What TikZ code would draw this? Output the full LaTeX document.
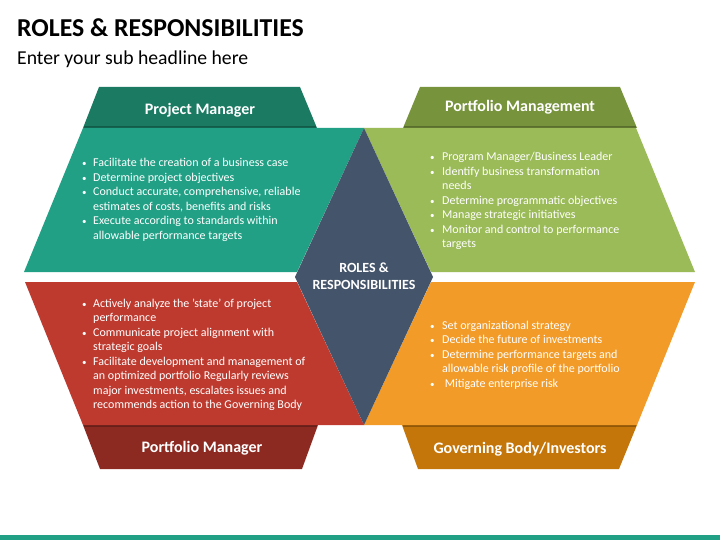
\documentclass[tikz,border=0pt]{standalone}
\usepackage{fontspec}
\setmainfont{Carlito}
\usepackage{array}

\definecolor{tealhead}{HTML}{1A7A62}
\definecolor{tealbody}{HTML}{21A085}
\definecolor{greenhead}{HTML}{77933C}
\definecolor{greenbody}{HTML}{9BBB59}
\definecolor{redhead}{HTML}{8C2A22}
\definecolor{redbody}{HTML}{BE3A2F}
\definecolor{orangehead}{HTML}{C5760A}
\definecolor{orangebody}{HTML}{F29B28}
\definecolor{slate}{HTML}{44546A}

\newcommand{\bul}{{\fontsize{9}{9}\selectfont\textbullet}}

\begin{document}
\begin{tikzpicture}[x=1pt, y=-1pt,
  boxtext/.style={text=white, inner sep=0pt, anchor=base west, font=\fontsize{12}{14.5}\selectfont},
  headtext/.style={text=white, inner sep=0pt, anchor=base, font=\fontsize{16}{18}\selectfont\bfseries},
  seam/.style={black, opacity=0.25, line width=2pt}]

\useasboundingbox (0,0) rectangle (720,540);

\node (title)  [anchor=base west, inner sep=0pt, font=\fontsize{25.8}{28}\selectfont\bfseries]  at  (17, 36.5) {ROLES \& RESPONSIBILITIES};
\node (subtitle)  [anchor=base west, inner sep=0pt, font=\fontsize{19.7}{22}\selectfont]  at  (17, 65) {Enter your sub headline here};

% headers
\fill   [tealhead]     (99,87) -- (300,87) -- (317,128) -- (83,128) -- cycle;
\fill   [greenhead]    (420,87) -- (620,87) -- (637,128) -- (403,128) -- cycle;
\fill   [redhead]      (83,425) -- (318,425) -- (302,469) -- (100,469) -- cycle;
\fill   [orangehead]   (402,425) -- (637,425) -- (619,469) -- (418,469) -- cycle;

\draw   [seam]   (84,127) -- (316,127);
\draw   [seam]   (404,127) -- (636,127);
\draw   [seam]   (84,426) -- (317,426);
\draw   [seam]   (403,426) -- (636,426);

% bodies
\fill   [tealbody]     (83,128) -- (364,128) -- (297,272) -- (24,272) -- cycle;
\fill   [greenbody]    (364,128) -- (636,128) -- (695,272) -- (431,272) -- cycle;
\fill   [redbody]      (25,282) -- (297,282) -- (364,425) -- (83,425) -- cycle;
\fill   [orangebody]   (431,282) -- (695,282) -- (637,425) -- (364,425) -- cycle;

% centre
\fill   [slate]   (364,128) -- (433,277) -- (364,425) -- (295,277) -- cycle;

\fill   [tealbody]   (0,535) rectangle (720,540);

% -------- Header texts -----------
\node (pmhead)  [headtext]  at  (200, 115) {Project Manager};
\node (pmghead)  [headtext]  at  (520, 112) {Portfolio Management};
\node (pfhead)  [headtext]  at  (202, 452) {Portfolio Manager};
\node (gbhead)  [headtext]  at  (520, 453) {Governing Body/Investors};

\node (centre)  [text=white, inner sep=0pt, align=center, font=\fontsize{14}{17}\selectfont\bfseries]  at  (364, 276) {ROLES \&\\RESPONSIBILITIES};

% -------- Bullet texts -----------
\node (pmtext)  [boxtext]  at  (82, 167) {\begin{tabular}[t]{@{}p{11pt}@{}l@{}}
\bul & Facilitate the creation of a business case\\
\bul & Determine project objectives\\
\bul & Conduct accurate, comprehensive, reliable\\
     & estimates of costs, benefits and risks\\
\bul & Execute according to standards within\\
     & allowable performance targets
\end{tabular}};

\node (pmgtext)  [boxtext]  at  (430, 161) {\begin{tabular}[t]{@{}p{12pt}@{}l@{}}
\bul & Program Manager/Business Leader\\
\bul & Identify business transformation\\
     & needs\\
\bul & Determine programmatic objectives\\
\bul & Manage strategic initiatives\\
\bul & Monitor and control to performance\\
     & targets
\end{tabular}};

\node (pftext)  [boxtext]  at  (82, 307) {\begin{tabular}[t]{@{}p{11pt}@{}l@{}}
\bul & Actively analyze the 'state' of project\\
     & performance\\
\bul & Communicate project alignment with\\
     & strategic goals\\
\bul & Facilitate development and management of\\
     & an optimized portfolio Regularly reviews\\
     & major investments, escalates issues and\\
     & recommends action to the Governing Body
\end{tabular}};

\node (gbtext)  [boxtext]  at  (430, 329) {\begin{tabular}[t]{@{}p{12pt}@{}l@{}}
\bul & Set organizational strategy\\
\bul & Decide the future of investments\\
\bul & Determine performance targets and\\
     & allowable risk profile of the portfolio\\
\bul & \ Mitigate enterprise risk
\end{tabular}};

\end{tikzpicture}
\end{document}
